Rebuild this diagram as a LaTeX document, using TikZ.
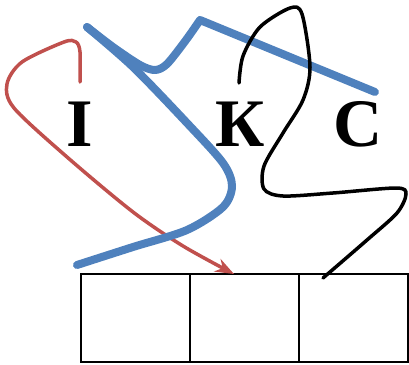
\documentclass[tikz,border=0pt]{standalone}
\usepackage{fontspec}
\setmainfont{Liberation Serif}
\usetikzlibrary{positioning,arrows.meta}

\definecolor{strokered}{RGB}{192,80,77}
\definecolor{strokeblue}{RGB}{79,129,189}

\tikzset{
  letter/.style={anchor=base, inner sep=0pt, font=\fontsize{68}{68}\selectfont\bfseries},
  cell/.style={draw, line width=2.4pt, minimum width=109pt, minimum height=88pt, outer sep=0pt, inner sep=0pt}
}

\begin{document}
\begin{tikzpicture}[x=1pt, y=-1pt, >=Stealth]
\useasboundingbox (0,0) rectangle (409,364);

% letters
\node[letter] (li) at (80,146) {I};
\node[letter] (lk) at (240,146) {К};
\node[letter] (lc) at (358,146) {С};

% boxes
\node[cell, anchor=north west] (b1) at (81,274) {};
\node[cell, right=0pt of b1] (b2) {};
\node[cell, right=0pt of b2] (b3) {};

% stroke ends
\coordinate (redstart) at (80,82);
\coordinate (redend) at (b2.north west -| 234,0);
\coordinate (blackstart) at (239,83);
\coordinate (blackend) at (323,278);
\coordinate (bluestart) at (77,265);
\coordinate (bluetop) at (87,27);
\coordinate (blueend) at (375,92);

% red stroke
\draw[strokered, line width=3.5pt, line cap=round, ->] plot[smooth] coordinates {
  (redstart) (80,52) (76,42) (64,42) (22,62) (7,84) (14,108) (67,157)
  (133,212) (183,246) (redend)};

% blue stroke
\draw[strokeblue, line width=8pt, line cap=round] plot[smooth] coordinates {
  (bluestart) (133,247) (187,230) (223,207) (232,186) (223,163)
  (187,123) (133,67) (bluetop)};
\draw[strokeblue, line width=8pt, line cap=round, line join=round] plot[smooth] coordinates {
  (bluetop) (113,47) (140,65) (155,70) (167,64) (186,40) (200,20)}
  -- (blueend);

% black stroke
\draw[line width=3.5pt, line cap=round] plot[smooth] coordinates {
  (blackstart) (243,56) (260,27) (290,8) (302,14) (310,67) (303,100)
  (283,133) (264,166) (264,189) (283,196) (333,193) (396,188) (406,194)
  (397,213) (367,240) (blackend)};
\end{tikzpicture}
\end{document}
